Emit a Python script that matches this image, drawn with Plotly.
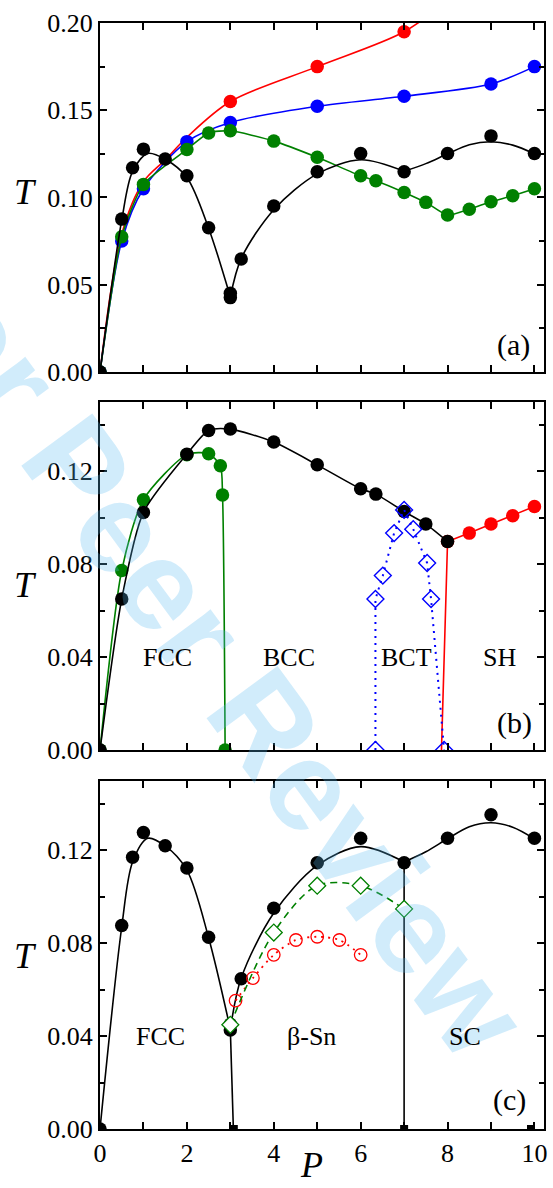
import plotly.graph_objects as go

# ---------------- data: panel (a) ----------------
a_red_P = [3, 5, 7]
a_red_T = [0.155, 0.175, 0.195]
a_red_curve_P = [0, 0.5, 1, 1.5, 2, 3, 5, 7, 8]
a_red_curve_T = [0, 0.079, 0.109, 0.1215, 0.1345, 0.155, 0.175, 0.195, 0.213]
a_blue_P = [0, 0.5, 1, 2, 3, 5, 7, 9, 10]
a_blue_T = [0, 0.075, 0.105, 0.132, 0.143, 0.1523, 0.158, 0.165, 0.175]
a_green_P = [0, 0.5, 1, 2, 2.5, 3, 4, 5, 6, 6.35, 7, 7.5, 8, 8.5, 9, 9.5, 10]
a_green_T = [0, 0.0775, 0.1075, 0.1275, 0.137, 0.1382, 0.1323, 0.123, 0.1124,
             0.1096, 0.1029, 0.0972, 0.0899, 0.0933, 0.0975, 0.101, 0.105]
black_P = [0, 0.5, 0.75, 1, 1.5, 2, 2.5, 3, 3, 3.25, 4, 5, 6, 7, 8, 9, 10]
black_T = [0, 0.0876, 0.117, 0.1277, 0.122, 0.1124, 0.0826, 0.0451, 0.0426,
           0.0647, 0.0951, 0.1147, 0.1252, 0.1147, 0.1252, 0.1353, 0.1252]
# fitted phase boundaries
fcc_fit_P = [0, 0.5, 0.75, 1.1, 1.5, 2, 2.5, 3.0]
fcc_fit_T = [0, 0.087, 0.115, 0.1252, 0.1219, 0.1115, 0.0824, 0.043]
bsn_fit_P = [3.0, 3.25, 4, 5, 6, 7]
bsn_fit_T = [0.043, 0.065, 0.093, 0.1135, 0.1216, 0.115]
sc_fit_P = [7, 7.5, 8, 8.5, 9, 9.5, 10]
sc_fit_T = [0.115, 0.1194, 0.125, 0.1302, 0.1319, 0.130, 0.125]

# ---------------- data: panel (b) ----------------
b_black_P = [0, 0.5, 1, 2, 2.5, 3, 4, 5, 6, 6.35, 7, 7.5, 8]
b_black_T = [0, 0.065, 0.1023, 0.1274, 0.1376, 0.1382, 0.1326, 0.1228, 0.1125,
             0.1102, 0.1027, 0.0973, 0.0898]
b_green_P = [0, 0.5, 1, 2, 2.5, 2.77, 2.82, 2.88]
b_green_T = [0, 0.0773, 0.1078, 0.1272, 0.1276, 0.1224, 0.1098, 0]
b_red_P = [7.86, 8.0, 8.5, 9, 9.5, 10]
b_red_T = [0, 0.0898, 0.0934, 0.0973, 0.1009, 0.1049]
b_blue_P = [6.34, 6.34, 6.51, 6.77, 7.0, 7.21, 7.53, 7.62, 7.92]
b_blue_T = [0, 0.065, 0.0751, 0.0934, 0.1034, 0.0951, 0.0805, 0.065, 0]
b_labels = ["FCC", "BCC", "BCT", "SH"]
b_label_P = [1.55, 4.34, 7.06, 9.2]

# ---------------- data: panel (c) ----------------
c_drop1_P = [3.0, 3.07]
c_drop1_T = [0.043, 0]
c_drop2_P = [7, 7]
c_drop2_T = [0.115, 0]
c_sq_P = [3.08, 7, 9.92]
c_sq_T = [0, 0, 0]
c_green_P = [3, 4, 5, 6, 7]
c_green_T = [0.0449, 0.0846, 0.1048, 0.1048, 0.0948]
c_red_P = [3.12, 3.52, 4, 4.51, 5, 5.51, 6]
c_red_T = [0.0553, 0.065, 0.075, 0.0814, 0.0828, 0.0814, 0.075]
c_labels = ["FCC", "β-Sn", "SC"]
c_label_P = [1.39, 4.86, 8.4]

x_ticks = list(range(11))
x_ticktext = ["0", "", "2", "", "4", "", "6", "", "8", "", "10"]

RED = "#ff0000"
BLUE = "#0000ff"
GREEN = "#008000"
BLACK = "#000000"
FONT = "Liberation Serif"
MS = 13.5
LW = 1.6

fig = go.Figure()


def line(P, T, color, xa, ya, shape="spline", smooth=1.0, dash="solid", width=LW):
    fig.add_trace(go.Scatter(x=P, y=T, mode="lines", xaxis=xa, yaxis=ya,
                             line=dict(color=color, width=width, shape=shape,
                                       smoothing=smooth if shape == "spline" else None,
                                       dash=dash),
                             hoverinfo="skip"))


def pts(P, T, color, xa, ya, symbol="circle", size=MS, fill=None, lw=0):
    fig.add_trace(go.Scatter(x=P, y=T, mode="markers", xaxis=xa, yaxis=ya,
                             marker=dict(symbol=symbol, size=size,
                                         color=fill if fill else color,
                                         line=dict(color=color, width=lw))))


# ---- panel (a): x3/y3 ----
line(a_red_curve_P, a_red_curve_T, RED, "x3", "y3", smooth=0.9)
pts(a_red_P, a_red_T, RED, "x3", "y3")
line(a_blue_P, a_blue_T, BLUE, "x3", "y3", smooth=0.8)
pts(a_blue_P, a_blue_T, BLUE, "x3", "y3")
line(a_green_P, a_green_T, GREEN, "x3", "y3", smooth=0.6)
pts(a_green_P, a_green_T, GREEN, "x3", "y3")
line(fcc_fit_P, fcc_fit_T, BLACK, "x3", "y3", smooth=0.9)
line(bsn_fit_P, bsn_fit_T, BLACK, "x3", "y3", smooth=0.9)
line(sc_fit_P, sc_fit_T, BLACK, "x3", "y3", smooth=0.9)
pts(black_P, black_T, BLACK, "x3", "y3")

# ---- panel (b): x2/y2 ----
line(b_red_P, b_red_T, RED, "x2", "y2", shape="linear")
pts(b_red_P[1:], b_red_T[1:], RED, "x2", "y2")
line(b_green_P, b_green_T, GREEN, "x2", "y2", smooth=0.7)
pts(b_green_P, b_green_T, GREEN, "x2", "y2")
line(b_black_P, b_black_T, BLACK, "x2", "y2", smooth=0.7)
pts(b_black_P, b_black_T, BLACK, "x2", "y2")
line(b_blue_P, b_blue_T, BLUE, "x2", "y2", shape="linear", dash="2px,5px", width=2)
pts(b_blue_P, b_blue_T, BLUE, "x2", "y2", symbol="diamond-open", size=13, lw=1.4)

# ---- panel (c): x/y ----
line(fcc_fit_P, fcc_fit_T, BLACK, "x", "y", smooth=0.9)
line(bsn_fit_P, bsn_fit_T, BLACK, "x", "y", smooth=0.9)
line(sc_fit_P, sc_fit_T, BLACK, "x", "y", smooth=0.9)
line(c_drop1_P, c_drop1_T, BLACK, "x", "y", shape="linear")
line(c_drop2_P, c_drop2_T, BLACK, "x", "y", shape="linear")
pts(c_sq_P, c_sq_T, BLACK, "x", "y", symbol="square", size=8)
pts(black_P, black_T, BLACK, "x", "y")
line(c_red_P, c_red_T, RED, "x", "y", shape="spline", smooth=0.8, dash="2px,5px", width=1.8)
pts(c_red_P, c_red_T, RED, "x", "y", symbol="circle-open", size=12.5, lw=1.3)
line(c_green_P, c_green_T, GREEN, "x", "y", smooth=0.9, dash="7px,5px", width=1.6)
pts(c_green_P, c_green_T, GREEN, "x", "y", symbol="diamond", size=13, fill="white", lw=1.3)

# ---------------- axes ----------------
tickfont = dict(family=FONT, size=26, color="black")
common_x = dict(range=[0, 10.22], tickvals=x_ticks, ticktext=x_ticktext,
                ticks="inside", ticklen=7, tickwidth=1.5, tickcolor="black",
                showline=True, linewidth=2, linecolor="black", mirror="allticks",
                showgrid=False, zeroline=False, tickfont=tickfont, ticklabelstandoff=0)
common_y = dict(ticks="inside", ticklen=7, tickwidth=1.5, tickcolor="black",
                showline=True, linewidth=2, linecolor="black", mirror="allticks",
                showgrid=False, zeroline=False, tickfont=tickfont, ticklabelstandoff=0)

fig.update_layout(
    xaxis=dict(common_x, anchor="y", domain=[0, 1]),
    xaxis2=dict(common_x, anchor="y2", domain=[0, 1], showticklabels=False),
    xaxis3=dict(common_x, anchor="y3", domain=[0, 1], showticklabels=False),
    yaxis=dict(common_y, anchor="x", domain=[0, 0.3149], range=[0, 0.15],
               tick0=0, dtick=0.04, tickformat=".2f",
               minor=dict(dtick=0.02, ticks="inside", ticklen=5, tickwidth=1.5, tickcolor="black")),
    yaxis2=dict(common_y, anchor="x2", domain=[0.3427, 0.6576], range=[0, 0.15],
                tick0=0, dtick=0.04, tickformat=".2f",
                minor=dict(dtick=0.02, ticks="inside", ticklen=5, tickwidth=1.5, tickcolor="black")),
    yaxis3=dict(common_y, anchor="x3", domain=[0.6845, 1.0], range=[0, 0.2],
                tick0=0, dtick=0.05, tickformat=".2f",
                minor=dict(dtick=0.025, ticks="inside", ticklen=5, tickwidth=1.5, tickcolor="black")),
)

ann = []
# watermark
ann.append(dict(text="<b>For Peer Review</b>", xref="paper", yref="paper",
                x=0.235, y=0.443, xanchor="center", yanchor="middle",
                showarrow=False, textangle=53.7,
                font=dict(family="Liberation Sans", size=128, color="rgba(90,185,240,0.28)")))
# phase labels
lab_font = dict(family=FONT, size=26, color="black")
for t, p in zip(b_labels, b_label_P):
    ann.append(dict(text=t, x=p, y=0.04, xref="x2", yref="y2", showarrow=False,
                    xanchor="center", yanchor="middle", font=lab_font))
for t, p in zip(c_labels, c_label_P):
    ann.append(dict(text=t, x=p, y=0.04, xref="x", yref="y", showarrow=False,
                    xanchor="center", yanchor="middle", font=lab_font))
# panel tags
tag_font = dict(family=FONT, size=30, color="black")
for t, p, yy, xr, yr in [("(a)", 9.52, 0.0152, "x3", "y3"),
                         ("(b)", 9.54, 0.0118, "x2", "y2"),
                         ("(c)", 9.43, 0.0125, "x", "y")]:
    ann.append(dict(text=t, x=p, y=yy, xref=xr, yref=yr, showarrow=False,
                    xanchor="center", yanchor="middle", font=tag_font))
# axis titles
ttl_font = dict(family=FONT, size=36, color="black")
for yy in [0.847, 0.4919, 0.1564]:
    ann.append(dict(text="<i>T</i>", x=-0.168, y=yy, xref="paper", yref="paper",
                    xanchor="center", yanchor="middle", showarrow=False, font=ttl_font))
ann.append(dict(text="<i>P</i>", x=0.4765, y=-0.0525, xref="paper", yref="paper",
                xanchor="center", yanchor="bottom", showarrow=False, font=ttl_font))

fig.update_layout(
    width=553, height=1188, autosize=False,
    margin=dict(l=100, r=6, t=23, b=59),
    paper_bgcolor="white", plot_bgcolor="rgba(0,0,0,0)",
    showlegend=False, annotations=ann,
    font=dict(family=FONT, color="black"),
)

fig.write_html("out.html")
